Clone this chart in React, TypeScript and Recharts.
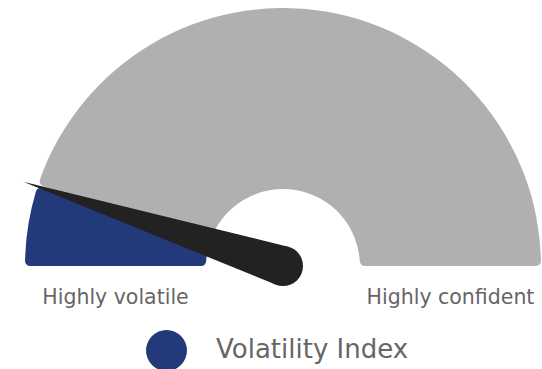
import { Cell, Legend, Pie, PieChart } from 'recharts';

const segmentNames = ['Volatility Index', 'Remaining'];
const segmentValues = [10, 90];
const segmentColors = ['#233a7a', '#b0b0b0'];
const endLabels = ['Highly volatile', 'Highly confident'];

const data = segmentNames.map((name, i) => ({ name, value: segmentValues[i] }));

const RAD = Math.PI / 180;
const FONT = '"DejaVu Sans", sans-serif';

// needle sits on the end of the first segment, end labels under the band
const renderGaugeLabel = (props: any) => {
  const { cx, cy, innerRadius, outerRadius, endAngle, index } = props;
  const mid = (innerRadius + outerRadius) / 2;
  if (index === 0) {
    const a = endAngle * RAD;
    const len = outerRadius + 15;
    const r = 20;
    const tipX = cx + len * Math.cos(a);
    const tipY = cy - len * Math.sin(a);
    const p1 = [cx + r * Math.sin(a), cy + r * Math.cos(a)];
    const p2 = [cx - r * Math.sin(a), cy - r * Math.cos(a)];
    return (
      <g>
        <text x={cx - mid} y={cy + 38} textAnchor="middle" fill="#666" fontSize={20.5} fontFamily={FONT}>
          {endLabels[0]}
        </text>
        <path d={`M${p1[0]},${p1[1]} L${tipX},${tipY} L${p2[0]},${p2[1]} Z`} fill="#222" />
        <circle cx={cx} cy={cy} r={r} fill="#222" />
      </g>
    );
  }
  return (
    <text x={cx + mid} y={cy + 38} textAnchor="middle" fill="#666" fontSize={20.5} fontFamily={FONT}>
      {endLabels[1]}
    </text>
  );
};

const renderLegend = (props: any) => {
  const item = (props.payload ?? []).find((p: any) => p.value === segmentNames[0]);
  const color = item?.color ?? segmentColors[0];
  return (
    <div style={{ position: 'relative', width: 542, height: 44 }}>
      <div
        style={{
          position: 'absolute',
          left: 146,
          top: 2,
          width: 41,
          height: 41,
          borderRadius: '50%',
          background: color,
        }}
      />
      <span
        style={{
          position: 'absolute',
          left: 216,
          top: 5,
          fontFamily: FONT,
          fontSize: 26,
          color: '#666',
          whiteSpace: 'nowrap',
          lineHeight: '32px',
        }}
      >
        {segmentNames[0]}
      </span>
    </div>
  );
};

export default function App() {
  return (
    <div style={{ position: 'absolute', left: 0, top: 0, width: 542, height: 369, background: '#fff' }}>
      <PieChart width={542} height={369} margin={{ top: 0, right: 0, bottom: 0, left: 0 }}>
        <Pie
          data={data}
          dataKey="value"
          nameKey="name"
          cx={283}
          cy={266}
          startAngle={180}
          endAngle={0}
          innerRadius={77}
          outerRadius={258}
          cornerRadius={5}
          paddingAngle={0.5}
          stroke="none"
          label={renderGaugeLabel}
          labelLine={false}
          isAnimationActive={false}
        >
          {data.map((d, i) => (
            <Cell key={d.name} fill={segmentColors[i]} />
          ))}
        </Pie>
        <Legend
          content={renderLegend}
          wrapperStyle={{ position: 'absolute', left: 0, top: 328, width: 542 }}
        />
      </PieChart>
    </div>
  );
}
